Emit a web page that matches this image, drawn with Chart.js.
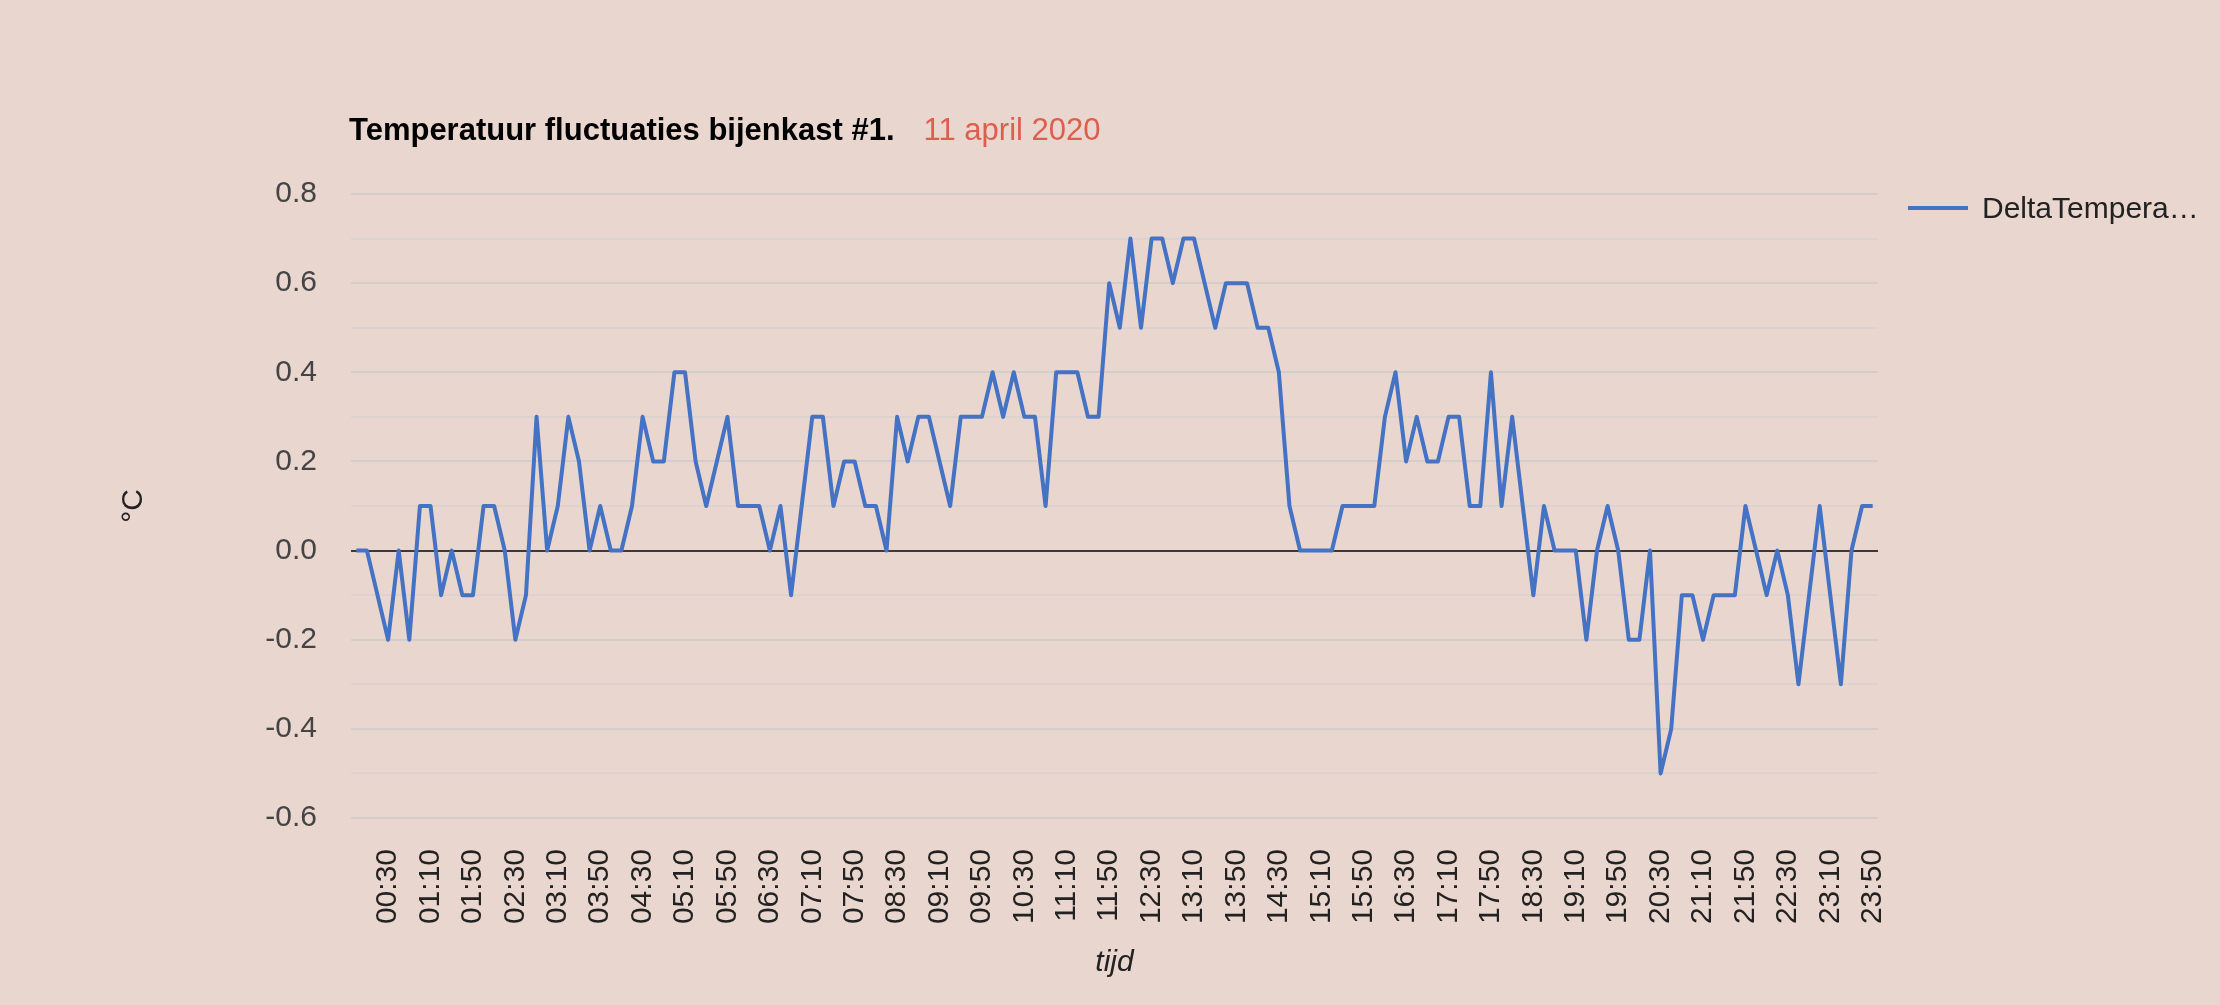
<!DOCTYPE html>
<html>
<head>
<meta charset="utf-8">
<title>Temperatuur fluctuaties bijenkast #1</title>
<script src="https://cdn.jsdelivr.net/npm/chart.js@4"></script>
<style>
  html, body { margin: 0; padding: 0; background: #e9d6ce; }
  #wrap { position: relative; width: 2220px; height: 1005px; }
</style>
</head>
<body>
<div id="wrap"><canvas id="myChart"></canvas></div>
<script>
// chart text
var chartTitle = 'Temperatuur fluctuaties bijenkast #1.';
var chartDate = '11 april 2020';
var seriesName = 'DeltaTemperatuur';
var yTitle = '°C';
var xTitle = 'tijd';

// categories: every 10 minutes, 00:00 .. 23:50
var times = [];
for (var h = 0; h < 24; h++) {
    for (var m = 0; m < 60; m += 10) {
        times.push((h < 10 ? '0' : '') + h + ':' + (m < 10 ? '0' : '') + m);
    }
}

// delta temperature per 10 minutes
var delta = [
    0.0, 0.0, -0.1, -0.2, 0.0, -0.2, 0.1, 0.1, -0.1, 0.0,
    -0.1, -0.1, 0.1, 0.1, 0.0, -0.2, -0.1, 0.3, 0.0, 0.1,
    0.3, 0.2, 0.0, 0.1, 0.0, 0.0, 0.1, 0.3, 0.2, 0.2,
    0.4, 0.4, 0.2, 0.1, 0.2, 0.3, 0.1, 0.1, 0.1, 0.0,
    0.1, -0.1, 0.1, 0.3, 0.3, 0.1, 0.2, 0.2, 0.1, 0.1,
    0.0, 0.3, 0.2, 0.3, 0.3, 0.2, 0.1, 0.3, 0.3, 0.3,
    0.4, 0.3, 0.4, 0.3, 0.3, 0.1, 0.4, 0.4, 0.4, 0.3,
    0.3, 0.6, 0.5, 0.7, 0.5, 0.7, 0.7, 0.6, 0.7, 0.7,
    0.6, 0.5, 0.6, 0.6, 0.6, 0.5, 0.5, 0.4, 0.1, 0.0,
    0.0, 0.0, 0.0, 0.1, 0.1, 0.1, 0.1, 0.3, 0.4, 0.2,
    0.3, 0.2, 0.2, 0.3, 0.3, 0.1, 0.1, 0.4, 0.1, 0.3,
    0.1, -0.1, 0.1, 0.0, 0.0, 0.0, -0.2, 0.0, 0.1, 0.0,
    -0.2, -0.2, 0.0, -0.5, -0.4, -0.1, -0.1, -0.2, -0.1, -0.1,
    -0.1, 0.1, 0.0, -0.1, 0.0, -0.1, -0.3, -0.1, 0.1, -0.1,
    -0.3, 0.0, 0.1, 0.1
];

// y axis range
var yMin = -0.6;
var yMax = 0.8;
var yStep = 0.1;

var FONT = "'Liberation Sans', Arial, Helvetica, sans-serif";
var lineColor = '#4472c4';

// title, date and legend drawn on top of the chart
var headerPlugin = {
    id: 'header',
    afterDraw: function (chart) {
        var ctx = chart.ctx;
        var area = chart.chartArea;
        ctx.save();
        ctx.textBaseline = 'middle';
        ctx.textAlign = 'left';
        ctx.font = 'bold 31px ' + FONT;
        ctx.fillStyle = '#000000';
        ctx.fillText(chartTitle, area.left - 2, 131);
        var w = ctx.measureText(chartTitle).width;
        ctx.font = '31px ' + FONT;
        ctx.fillStyle = '#de5e4e';
        ctx.fillText(chartDate, area.left - 2 + w + 29, 131);

        // legend
        var ly = 208;
        var lx = area.right + 30;
        ctx.strokeStyle = lineColor;
        ctx.lineWidth = 4;
        ctx.beginPath();
        ctx.moveTo(lx, ly);
        ctx.lineTo(lx + 60, ly);
        ctx.stroke();
        ctx.font = '30px ' + FONT;
        ctx.fillStyle = '#222222';
        ctx.fillText(seriesName.slice(0, 12) + '\u2026', lx + 74, ly + 2);
        ctx.restore();
    }
};

var ctx = document.getElementById('myChart').getContext('2d');
var myChart = new Chart(ctx, {
    type: 'line',
    data: {
        labels: times,
        datasets: [{
            label: seriesName,
            data: delta,
            borderColor: lineColor,
            backgroundColor: lineColor,
            borderWidth: 4,
            borderJoinStyle: 'round',
            pointRadius: 0,
            fill: false,
            tension: 0
        }]
    },
    options: {
        responsive: true,
        maintainAspectRatio: false,
        animation: false,
        layout: {
            padding: { left: 100, right: 342, top: 194, bottom: 10 }
        },
        plugins: {
            legend: { display: false },
            title: { display: false },
            tooltip: { enabled: true }
        },
        scales: {
            x: {
                type: 'category',
                offset: true,
                grid: { display: false, drawTicks: false },
                border: { display: false },
                ticks: {
                    autoSkip: false,
                    minRotation: 90,
                    maxRotation: 90,
                    padding: 31,
                    color: '#222222',
                    font: { family: FONT, size: 30 },
                    callback: function (value, index) {
                        return index % 4 === 3 ? times[index] : null;
                    }
                },
                title: {
                    display: true,
                    text: xTitle,
                    color: '#222222',
                    font: { family: FONT, size: 30, style: 'italic' },
                    padding: { top: 0, bottom: 14 }
                },
                afterFit: function (axis) { axis.height = 177; }
            },
            y: {
                min: yMin,
                max: yMax,
                grid: {
                    drawTicks: false,
                    color: function (c) {
                        var v = Math.round(c.tick.value * 10);
                        if (v === 0) return '#3a3a3a';
                        return v % 2 === 0 ? '#d4cdcb' : '#dcd2ce';
                    },
                    lineWidth: 2
                },
                border: { display: false },
                ticks: {
                    stepSize: yStep,
                    padding: 34,
                    color: '#444444',
                    font: { family: FONT, size: 30 },
                    callback: function (value) {
                        var v = Math.round(value * 10);
                        return v % 2 === 0 ? (v / 10).toFixed(1) : '';
                    }
                },
                title: {
                    display: true,
                    text: yTitle,
                    color: '#222222',
                    font: { family: FONT, size: 30 },
                    padding: { top: 16, bottom: 0 }
                },
                afterFit: function (axis) { axis.width = 251; }
            }
        }
    },
    plugins: [headerPlugin]
});
</script>
</body>
</html>
